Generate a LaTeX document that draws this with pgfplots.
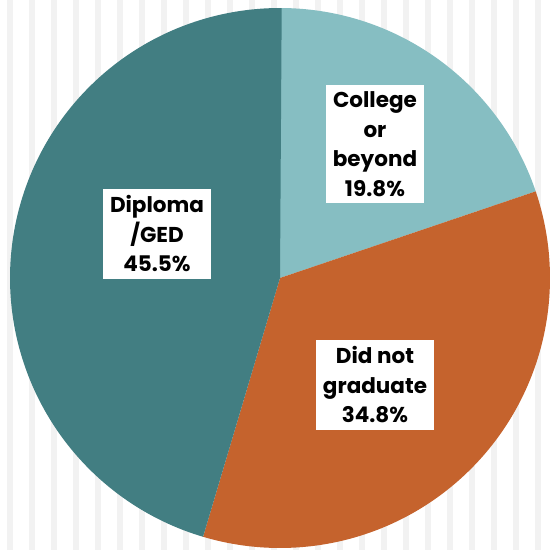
\documentclass[border=0pt]{standalone}
\usepackage{pgfplots}
\pgfplotsset{compat=1.18}
\usepackage{fontspec}
\setmainfont{Poppins}
\definecolor{cCollege}{RGB}{134,190,194}
\definecolor{cDid}{RGB}{197,99,45}
\definecolor{cDip}{RGB}{66,126,130}
\definecolor{stripe}{RGB}{242,242,242}
% shares in percent
\def\vCollege{19.8}
\def\vDid{34.8}
\def\vDip{45.5}
\begin{document}
\begin{tikzpicture}
\fill[white] (0,0) rectangle (550bp,550bp);
\foreach \s in {7,29,...,535} {\fill[stripe] (\s bp,0) rectangle ++(6bp,550bp);}
\pgfmathsetmacro{\aA}{90}
\pgfmathsetmacro{\aB}{\aA-3.6*\vCollege}
\pgfmathsetmacro{\aC}{\aB-3.6*\vDid}
\pgfmathsetmacro{\aD}{\aC-3.6*\vDip}
\begin{axis}[at={(0,0)},anchor=south west,
  width=550bp,height=550bp,scale only axis,
  xmin=-280,xmax=270,ymin=-272,ymax=278,
  hide axis, clip=false]
\addplot[fill=cCollege,draw=none,domain=\aB:\aA,samples=90,variable=\t]
  ({270*cos(\t)},{270*sin(\t)}) -- (axis cs:0,0) -- cycle;
\addplot[fill=cDid,draw=none,domain=\aC:\aB,samples=120,variable=\t]
  ({270*cos(\t)},{270*sin(\t)}) -- (axis cs:0,0) -- cycle;
\addplot[fill=cDip,draw=none,domain=\aD:\aC,samples=150,variable=\t]
  ({270*cos(\t)},{270*sin(\t)}) -- (axis cs:0,0) -- cycle;
\tikzset{lab/.style={fill=white,text=black,align=center,font=\fontsize{21.5bp}{29.5bp}\selectfont\bfseries,inner xsep=7bp,inner ysep=7bp}}
\node[lab] at (axis cs:95,134) {College\\or\\beyond\\19.8\%};
\node[lab] at (axis cs:-123,44) {Diploma\\/GED\\45.5\%};
\node[lab] at (axis cs:95,-107) {Did not\\graduate\\34.8\%};
\end{axis}
\end{tikzpicture}
\end{document}
